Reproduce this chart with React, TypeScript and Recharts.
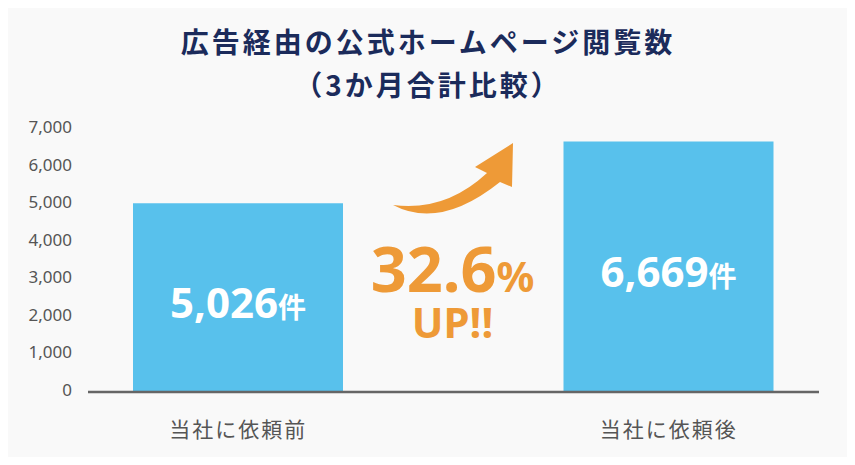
import React from 'react';
import { BarChart, Bar, XAxis, YAxis, LabelList } from 'recharts';

const categories = ['当社に依頼前', '当社に依頼後'];
const views = [5026, 6669];
const yTicks = [0, 1000, 2000, 3000, 4000, 5000, 6000, 7000];
const titleLines = ['広告経由の公式ホームページ閲覧数', '（3か月合計比較）'];
const upRate = '32.6';

const data = categories.map((name, i) => ({ name, views: views[i] }));

const FONT = '"Noto Sans", "Noto Sans CJK JP", sans-serif';
const BLUE = '#58C1EC';
const ORANGE = '#EE9A37';
const NAVY = '#1B2B5B';

const CategoryTick = (props: any) => {
  const { x, y, payload } = props;
  return (
    <text
      x={x}
      y={y + 39}
      textAnchor="middle"
      fill="#555"
      fontSize={21}
      letterSpacing={2}
      fontFamily={FONT}
    >
      {payload.value}
    </text>
  );
};

const ValueLabel = (props: any) => {
  const { x, y, width, height, value } = props;
  return (
    <text
      x={x + width / 2}
      y={y + height / 2 + 20}
      textAnchor="middle"
      fill="#fff"
      fontWeight={700}
      fontFamily={FONT}
    >
      <tspan fontSize={42}>{Number(value).toLocaleString('en-US')}</tspan>
      <tspan fontSize={28}>件</tspan>
    </text>
  );
};

export default function App() {
  return (
    <div style={{ position: 'relative', width: 855, height: 465, margin: -8, fontFamily: FONT }}>
      {/* card */}
      <div
        style={{
          position: 'absolute',
          left: 2,
          top: 2,
          width: 848,
          height: 457,
          borderRadius: 12,
          background: '#f9f9f9',
          border: '1px solid #e4e4e4',
          boxShadow: '0 2px 3px rgba(0,0,0,0.08)',
        }}
      />

      <div style={{ position: 'absolute', left: 0, top: 0 }}>
        <BarChart
          width={855}
          height={465}
          data={data}
          margin={{ top: 129, right: 36, bottom: 43, left: 28 }}
        >
          <YAxis
            domain={[0, 7000]}
            ticks={yTicks}
            width={60}
            axisLine={false}
            tickLine={false}
            tickMargin={10}
            tickFormatter={(v: number) => v.toLocaleString('en-US')}
            tick={{ fill: '#555', fontSize: 17, fontFamily: FONT, dy: -2 }}
          />
          <XAxis
            dataKey="name"
            height={30}
            padding={{ left: -65, right: -65 }}
            axisLine={{ stroke: '#666', strokeWidth: 2.5 }}
            tickLine={false}
            tickMargin={0}
            tick={<CategoryTick />}
          />
          <Bar dataKey="views" fill={BLUE} barSize={210} isAnimationActive={false}>
            <LabelList dataKey="views" content={<ValueLabel />} />
          </Bar>
        </BarChart>
      </div>

      {/* title, arrow and growth note */}
      <svg
        width={855}
        height={465}
        style={{ position: 'absolute', left: 0, top: 0, pointerEvents: 'none' }}
      >
        <text
          x={428}
          y={53}
          textAnchor="middle"
          fill={NAVY}
          fontSize={28}
          fontWeight={700}
          letterSpacing={3}
          fontFamily='"Noto Sans CJK JP", sans-serif'
        >
          {titleLines[0]}
        </text>
        <text
          x={428}
          y={96}
          textAnchor="middle"
          fill={NAVY}
          fontSize={28}
          fontWeight={700}
          letterSpacing={3}
          fontFamily='"Noto Sans CJK JP", sans-serif'
        >
          {titleLines[1]}
        </text>

        <path
          d="M 393,205 Q 445,212 487,173 L 475,167 L 513,143 L 512,187 L 500,182 Q 440,230 393,205 Z"
          fill={ORANGE}
        />

        <text x={452.5} y={291.5} textAnchor="middle" fill={ORANGE} fontWeight={700} fontFamily={FONT}>
          <tspan fontSize={63}>{upRate}</tspan>
          <tspan fontSize={42}>%</tspan>
        </text>
        <text
          x={452.5}
          y={338}
          textAnchor="middle"
          fill={ORANGE}
          fontWeight={700}
          fontSize={42}
          fontFamily={FONT}
        >
          UP!!
        </text>
      </svg>
    </div>
  );
}
